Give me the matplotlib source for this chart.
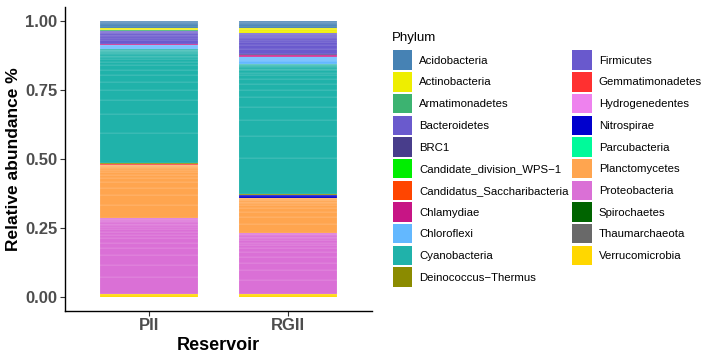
import matplotlib.pyplot as plt
from matplotlib.patches import Patch

plt.rcParams['font.family'] = ['Liberation Sans', 'DejaVu Sans']

samples = ['PII', 'RGII']

phyla = ['Acidobacteria', 'Actinobacteria', 'Armatimonadetes', 'Bacteroidetes', 'BRC1',
         'Candidate_division_WPS\u22121', 'Candidatus_Saccharibacteria', 'Chlamydiae',
         'Chloroflexi', 'Cyanobacteria', 'Deinococcus\u2212Thermus', 'Firmicutes',
         'Gemmatimonadetes', 'Hydrogenedentes', 'Nitrospirae', 'Parcubacteria',
         'Planctomycetes', 'Proteobacteria', 'Spirochaetes', 'Thaumarchaeota',
         'Verrucomicrobia']

phylum_colors = ['#4682B4', '#EEEE00', '#3CB371', '#6A5ACD', '#483D8B',
                 '#00EE00', '#FF4500', '#C71585', '#63B8FF', '#20B2AA',
                 '#8B8B00', '#6959CD', '#FF3030', '#EE82EE', '#0000CD',
                 '#00FA9A', '#FFA54F', '#DA70D6', '#006400', '#696969',
                 '#FFD700']

# OTU relative abundances per phylum (same order as phyla)
pii_otus = [
    [0.008, 0.006, 0.004, 0.003, 0.002, 0.002, 0.001, 0.001],
    [0.004, 0.002, 0.001, 0.001],
    [0.002],
    [0.012, 0.009, 0.007, 0.005, 0.004, 0.003, 0.002, 0.002, 0.001, 0.001],
    [],
    [],
    [],
    [0.003, 0.002, 0.001],
    [0.006, 0.004, 0.003, 0.002],
    [0.11, 0.07, 0.05, 0.035, 0.03, 0.025, 0.02, 0.015, 0.012, 0.01, 0.008,
     0.006, 0.005, 0.004, 0.003, 0.003, 0.002, 0.002, 0.001, 0.001, 0.001],
    [0.002],
    [],
    [0.002, 0.001, 0.001],
    [],
    [],
    [],
    [0.05, 0.035, 0.025, 0.02, 0.015, 0.012, 0.01, 0.008, 0.006, 0.004,
     0.003, 0.002, 0.002, 0.001],
    [0.06, 0.045, 0.035, 0.025, 0.02, 0.016, 0.013, 0.011, 0.009, 0.008,
     0.007, 0.006, 0.005, 0.004, 0.003, 0.003, 0.002, 0.002],
    [],
    [],
    [0.006, 0.004],
]

rgii_otus = [
    [0.009, 0.006, 0.004, 0.003, 0.002, 0.002, 0.001],
    [0.008, 0.005, 0.002, 0.001, 0.001],
    [],
    [0.018, 0.013, 0.01, 0.008, 0.006, 0.005, 0.004, 0.003, 0.003, 0.002, 0.002, 0.001],
    [0.003, 0.002],
    [],
    [],
    [0.004, 0.003, 0.002],
    [0.008, 0.006, 0.004, 0.002, 0.002],
    [0.13, 0.08, 0.06, 0.045, 0.035, 0.028, 0.022, 0.017, 0.013, 0.01,
     0.008, 0.006, 0.005, 0.004, 0.003, 0.002, 0.002, 0.001, 0.001, 0.001],
    [0.002, 0.002],
    [],
    [],
    [],
    [0.007, 0.004],
    [],
    [0.035, 0.025, 0.018, 0.013, 0.01, 0.008, 0.006, 0.004, 0.003, 0.002, 0.002, 0.001],
    [0.05, 0.035, 0.028, 0.022, 0.017, 0.014, 0.011, 0.009, 0.008, 0.007,
     0.006, 0.005, 0.004, 0.002, 0.002],
    [],
    [],
    [0.006, 0.004],
]

fig = plt.figure(figsize=(7.07, 3.6), dpi=100, facecolor='w')
ax = fig.add_axes([65 / 707, 1 - 310.5 / 360, 307 / 707, 303.5 / 360])

# stack: last phylum at the bottom, first at the top
for i, otus in enumerate([pii_otus, rgii_otus]):
    bottom = 0.0
    for color, vals in reversed(list(zip(phylum_colors, otus))):
        for v in vals:
            ax.bar(i, v, bottom=bottom, width=0.7, color=color,
                   edgecolor=(1, 1, 1, 0.45), linewidth=0.2)
            bottom += v

ax.set_xlim(-0.6, 1.6)
ax.set_ylim(-0.05, 1.05)
ax.set_xticks([0, 1])
ax.set_xticklabels(samples)
ax.set_yticks([0, 0.25, 0.5, 0.75, 1.0])
ax.set_yticklabels(['0.00', '0.25', '0.50', '0.75', '1.00'])
for lab in ax.get_xticklabels() + ax.get_yticklabels():
    lab.set_fontweight('bold')
    lab.set_color('#4D4D4D')
    lab.set_fontsize(12)
ax.tick_params(length=3.5, width=0.8, color='#333333', pad=2)
for s in ['top', 'right']:
    ax.spines[s].set_visible(False)
for s in ['left', 'bottom']:
    ax.spines[s].set_linewidth(1.0)
ax.set_xlabel('Reservoir', fontsize=13, fontweight='bold', labelpad=3)
ax.set_ylabel('Relative abundance %', fontsize=12.5, fontweight='bold', labelpad=3)

# legend title placed on its own, then the two-column legend below it
fig.text(392 / 707, 1 - 41.5 / 360, 'Phylum', fontsize=9.5, va='baseline', ha='left')
handles = [Patch(facecolor=c, edgecolor='none') for c in phylum_colors]
fig.legend(handles, phyla, ncol=2, loc='upper left',
           bbox_to_anchor=(393 / 707, 1 - 50.5 / 360), frameon=False,
           fontsize=8.2, handlelength=1.7, handleheight=2.26,
           labelspacing=0.19, handletextpad=0.62, columnspacing=0.3,
           borderpad=0, borderaxespad=0)

plt.savefig('out.png', dpi=100)
